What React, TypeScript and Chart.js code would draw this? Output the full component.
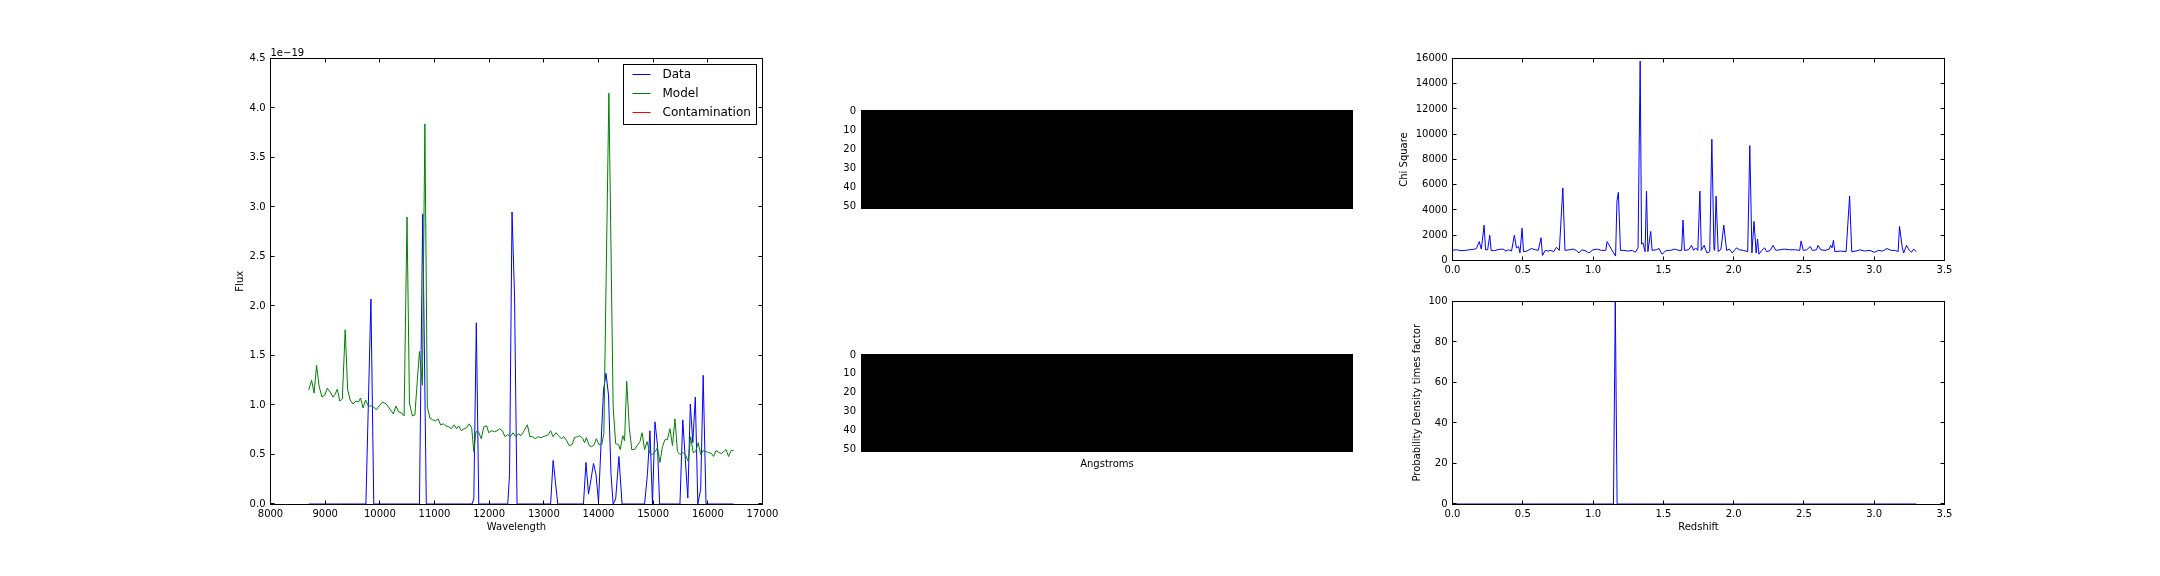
import React, { useEffect, useRef } from "react";
import { Chart, registerables } from "chart.js";

Chart.register(...registerables);

const FONT_FAMILY = '"DejaVu Sans", "Liberation Sans", sans-serif';

// ---------------- Spectrum panel (flux in units of 1e-19) ----------------
const modelWavelength = [
  8699, 8752, 8797, 8843, 8889, 8941, 8993, 9039, 9092, 9144, 9183, 9222, 9268, 9314, 9366, 9412,
  9458, 9510, 9562, 9608, 9647, 9693, 9739, 9791, 9856, 9889, 9935, 9987, 10052, 10118, 10183,
  10248, 10294, 10346, 10399, 10444, 10497, 10542, 10595, 10641, 10686, 10725, 10778, 10824, 10869,
  10915, 10967, 11020, 11065, 11111, 11163, 11209, 11261, 11307, 11359, 11405, 11444, 11490, 11542,
  11588, 11634, 11680, 11719, 11758, 11804, 11856, 11902, 11954, 11993, 12046, 12098, 12144, 12190,
  12242, 12288, 12340, 12386, 12438, 12484, 12536, 12582, 12627, 12699, 12745, 12797, 12843, 12895,
  12941, 12987, 13039, 13078, 13124, 13170, 13222, 13268, 13320, 13366, 13418, 13464, 13516, 13562,
  13614, 13660, 13712, 13745, 13778, 13830, 13876, 13922, 13961, 14007, 14059, 14098, 14190, 14268,
  14314, 14366, 14399, 14444, 14477, 14516, 14562, 14608, 14660, 14706, 14758, 14797, 14843, 14889,
  14941, 14987, 15039, 15078, 15124, 15170, 15216, 15261, 15307, 15353, 15399, 15444, 15490, 15542,
  15588, 15641, 15686, 15732, 15778, 15824, 15869, 15915, 15967, 16013, 16065, 16105, 16150, 16203,
  16248, 16294, 16333, 16379, 16425, 16471,
];
const modelFlux = [
  1.15, 1.25, 1.12, 1.4, 1.19, 1.08, 1.1, 1.17, 1.13, 1.08, 1.11, 1.16, 1.04, 1.06, 1.76, 1.15,
  1.05, 1.01, 1.04, 1.03, 1.07, 0.97, 1.05, 0.99, 0.99, 0.98, 0.95, 0.99, 1.03, 1.01, 0.96,
  0.91, 0.99, 0.93, 0.92, 0.89, 2.9, 1.02, 0.89, 0.9, 1.25, 1.54, 1.2, 3.84, 0.98,
  0.87, 0.85, 0.84, 0.86, 0.8, 0.81, 0.79, 0.78, 0.76, 0.8, 0.76, 0.79, 0.74, 0.76,
  0.77, 0.81, 0.77, 0.53, 0.73, 0.73, 0.66, 0.78, 0.79, 0.72, 0.74, 0.73, 0.74, 0.76,
  0.74, 0.68, 0.7, 0.68, 0.72, 0.68, 0.71, 0.69, 0.73, 0.8, 0.68, 0.68, 0.66, 0.68,
  0.67, 0.68, 0.69, 0.7, 0.74, 0.68, 0.72, 0.69, 0.66, 0.68, 0.64, 0.59, 0.6, 0.67,
  0.68, 0.69, 0.66, 0.62, 0.67, 0.59, 0.58, 0.6, 0.66, 0.6, 0.6, 0.71, 4.15, 0.98,
  0.61, 0.6, 0.55, 0.69, 0.64, 1.24, 0.78, 0.55, 0.55, 0.59, 0.63, 0.72, 0.55, 0.63,
  0.51, 0.5, 0.53, 0.57, 0.42, 0.58, 0.65, 0.65, 0.76, 0.59, 0.86, 0.53, 0.5, 0.52,
  0.5, 0.43, 0.68, 0.52, 0.53, 0.62, 0.5, 0.54, 0.53, 0.52, 0.51, 0.48, 0.54, 0.52,
  0.51, 0.53, 0.55, 0.48, 0.54, 0.54,
];
const dataWavelength = [
  8700, 9745, 9837, 9889, 10725, 10784, 10850, 11686, 11719, 11765, 11810, 12340, 12373, 12418,
  12464, 12510, 13124, 13170, 13255, 13725, 13771, 13817, 13863, 13909, 13954, 14000, 14046, 14092,
  14137, 14183, 14229, 14268, 14314, 14373, 14431, 14843, 14895, 14941, 14987, 15033, 15078, 15118,
  15490, 15542, 15588, 15634, 15680, 15725, 15771, 15817, 15869, 15915, 15967, 16471,
];
const dataFlux = [
  0, 0, 2.07, 0, 0, 2.93, 0, 0, 0.05, 1.83, 0, 0, 0.3, 2.95,
  2.1, 0, 0, 0.44, 0, 0, 0.42, 0.1, 0.25, 0.41, 0.3, 0.02, 0.6, 1.15,
  1.32, 1.1, 0.3, 0, 0.05, 0.48, 0, 0, 0.3, 0.74, 0, 0.83, 0.6, 0,
  0, 0.85, 0.45, 0.06, 1.01, 0.62, 1.08, 0, 0.15, 1.3, 0, 0,
];
const contaminationWavelength: number[] = [];
const contaminationFlux: number[] = [];
const wavelengthTicks = [8000, 9000, 10000, 11000, 12000, 13000, 14000, 15000, 16000, 17000];
const fluxTicks = [0, 0.5, 1, 1.5, 2, 2.5, 3, 3.5, 4, 4.5];
const fluxOffsetLabel = "1e\u221219";

// ---------------- Chi square vs redshift ----------------
const chiRedshift = [
  0, 0.03, 0.06, 0.09, 0.12, 0.15, 0.17, 0.19, 0.205, 0.225, 0.235, 0.25, 0.265, 0.275, 0.3, 0.33,
  0.36, 0.38, 0.4, 0.42, 0.44, 0.455, 0.47, 0.48, 0.495, 0.505, 0.53, 0.56, 0.59, 0.61, 0.63, 0.64,
  0.66, 0.68, 0.7, 0.72, 0.74, 0.76, 0.785, 0.8, 0.83, 0.86, 0.88, 0.9, 0.92, 0.95, 0.97, 1.0,
  1.03, 1.06, 1.09, 1.1, 1.13, 1.16, 1.17, 1.18, 1.195, 1.22, 1.25, 1.28, 1.3, 1.32, 1.335, 1.345,
  1.355, 1.37, 1.38, 1.39, 1.41, 1.42, 1.45, 1.47, 1.49, 1.52, 1.55, 1.58, 1.61, 1.63, 1.64, 1.65,
  1.68, 1.7, 1.715, 1.73, 1.745, 1.76, 1.77, 1.79, 1.81, 1.83, 1.845, 1.86, 1.865, 1.875, 1.89, 1.91,
  1.93, 1.95, 1.97, 1.99, 2.02, 2.04, 2.07, 2.1, 2.115, 2.13, 2.145, 2.16, 2.17, 2.18, 2.2, 2.22,
  2.235, 2.26, 2.28, 2.3, 2.33, 2.36, 2.4, 2.44, 2.47, 2.48, 2.495, 2.52, 2.545, 2.56, 2.59, 2.6,
  2.62, 2.65, 2.68, 2.69, 2.7, 2.71, 2.72, 2.76, 2.8, 2.825, 2.84, 2.87, 2.9, 2.93, 2.97, 3.0,
  3.03, 3.06, 3.09, 3.12, 3.15, 3.17, 3.18, 3.2, 3.21, 3.23, 3.25, 3.265, 3.28, 3.3,
];
const chiSquare = [
  820, 850, 780, 800, 850, 880, 950, 1500, 900, 2800, 850, 850, 2000, 800, 780, 880,
  900, 750, 850, 750, 2000, 1000, 1100, 600, 2550, 700, 750, 950, 850, 800, 1800, 400,
  800, 750, 800, 700, 1050, 800, 5750, 800, 850, 900, 800, 600, 850, 750, 600, 850,
  900, 800, 800, 1500, 900, 350, 4700, 5400, 800, 800, 750, 800, 650, 1000, 15800, 1300,
  1400, 700, 5500, 700, 2300, 800, 850, 950, 500, 800, 800, 900, 800, 800, 3200, 800,
  850, 1200, 800, 1000, 800, 5500, 800, 1200, 600, 700, 9600, 900, 800, 5100, 700, 900,
  2800, 800, 900, 600, 1000, 850, 800, 700, 9100, 600, 3100, 600, 1700, 500, 800, 1000,
  700, 800, 1200, 800, 850, 900, 850, 850, 800, 1550, 800, 850, 1100, 800, 850, 1200,
  850, 800, 900, 1200, 1000, 1600, 700, 750, 700, 5100, 700, 750, 850, 750, 800, 650,
  800, 750, 950, 800, 800, 700, 2700, 1000, 600, 1200, 800, 650, 900, 700,
];
const redshiftTicks = [0, 0.5, 1, 1.5, 2, 2.5, 3, 3.5];
const chiTicks = [0, 2000, 4000, 6000, 8000, 10000, 12000, 14000, 16000];

// ---------------- Probability density vs redshift ----------------
const pdfRedshift = [0, 1.145, 1.158, 1.171, 3.3];
const pdfValue = [0, 0, 100, 0, 0];
const pdfTicks = [0, 20, 40, 60, 80, 100];

// ---------------- 2D spectrum images ----------------
const imageRows = 52;
const imageCols = 262;
const imagePixelValue = 0;
const imageRowTicks = [0, 10, 20, 30, 40, 50];

// ---------------- helpers ----------------
type Box = { l: number; t: number; r: number; b: number };
const MARGIN = { left: 110, right: 40, top: 30, bottom: 50 };
const tickFont = { family: FONT_FAMILY, size: 10 };

const pairs = (xs: number[], ys: number[]) => xs.map((x, i) => ({ x, y: ys[i] }));
const fixedTicks = (values: number[]) => (scale: any) => {
  scale.ticks = values.map((v) => ({ value: v }));
};
const snap = (v: number) => Math.floor(v) + 0.5;

const framePlugin = {
  id: "frame",
  afterDatasetsDraw(chart: any) {
    const { ctx, chartArea: a } = chart;
    const L = 4;
    const left = snap(a.left);
    const right = snap(a.right);
    const top = snap(a.top);
    const bottom = snap(a.bottom);
    ctx.save();
    ctx.strokeStyle = "#000";
    ctx.lineWidth = 1;
    ctx.strokeRect(left, top, right - left, bottom - top);
    ctx.beginPath();
    const xs = chart.scales.x;
    for (const t of xs.ticks) {
      const px = snap(xs.getPixelForValue(t.value) - 0.01);
      ctx.moveTo(px, bottom);
      ctx.lineTo(px, bottom - L);
      ctx.moveTo(px, top);
      ctx.lineTo(px, top + L);
    }
    const ys = chart.scales.y;
    for (const t of ys.ticks) {
      const py = snap(ys.getPixelForValue(t.value) - 0.01);
      ctx.moveTo(left, py);
      ctx.lineTo(left + L, py);
      ctx.moveTo(right, py);
      ctx.lineTo(right - L, py);
    }
    ctx.stroke();
    ctx.restore();
  },
};

const boxLegendPlugin = {
  id: "boxLegend",
  afterDraw(chart: any) {
    const { ctx, chartArea: a } = chart;
    const items = chart.data.datasets;
    ctx.save();
    ctx.font = `12px ${FONT_FAMILY}`;
    const textW = Math.max(...items.map((d: any) => ctx.measureText(d.label).width));
    const w = Math.round(39 + textW + 6);
    const h = 60;
    const right = a.right - 6;
    const left = right - w;
    const top = a.top + 6;
    ctx.fillStyle = "#fff";
    ctx.fillRect(left, top, w, h);
    ctx.strokeStyle = "#000";
    ctx.lineWidth = 1;
    ctx.strokeRect(left, top, w, h);
    items.forEach((d: any, i: number) => {
      const cy = top + 10 + i * 19;
      ctx.strokeStyle = d.borderColor;
      ctx.beginPath();
      ctx.moveTo(left + 9, cy);
      ctx.lineTo(left + 27, cy);
      ctx.stroke();
      ctx.fillStyle = "#000";
      ctx.textBaseline = "middle";
      ctx.textAlign = "left";
      ctx.fillText(d.label, left + 39, cy);
    });
    ctx.restore();
  },
};

const offsetTextPlugin = {
  id: "offsetText",
  afterDraw(chart: any, _args: any, opts: any) {
    if (!opts || !opts.text) return;
    const { ctx, chartArea: a } = chart;
    ctx.save();
    ctx.font = `10px ${FONT_FAMILY}`;
    ctx.fillStyle = "#000";
    ctx.textAlign = "left";
    ctx.textBaseline = "alphabetic";
    ctx.fillText(opts.text, a.left, a.top - 3);
    ctx.restore();
  },
};

const grayLevel = (v: number) => {
  const g = Math.round(Math.max(0, Math.min(1, v)) * 255);
  return `rgb(${g},${g},${g})`;
};

const imagePlugin = {
  id: "image2d",
  beforeDatasetsDraw(chart: any) {
    const { ctx } = chart;
    const xs = chart.scales.x;
    const ys = chart.scales.y;
    ctx.save();
    ctx.fillStyle = grayLevel(imagePixelValue);
    for (let r = 0; r < imageRows; r++) {
      const y0 = Math.round(ys.getPixelForValue(r - 0.5));
      const y1 = Math.round(ys.getPixelForValue(r + 0.5));
      for (let c = 0; c < imageCols; c++) {
        const x0 = Math.round(xs.getPixelForValue(c - 0.5));
        const x1 = Math.round(xs.getPixelForValue(c + 0.5));
        ctx.fillRect(x0, Math.min(y0, y1), x1 - x0, Math.abs(y1 - y0));
      }
    }
    ctx.restore();
  },
};

function axis(opts: any) {
  const { min, max, ticks, fmt, title, reverse, showTicks = true } = opts;
  return {
    type: "linear",
    min,
    max,
    reverse: !!reverse,
    afterBuildTicks: ticks ? fixedTicks(ticks) : undefined,
    grid: { display: false, drawTicks: false },
    border: { display: false },
    ticks: {
      display: showTicks,
      autoSkip: false,
      maxRotation: 0,
      minRotation: 0,
      padding: opts.padding ?? 4,
      color: "#000",
      font: tickFont,
      callback: (v: number) => (fmt ? fmt(v) : String(v)),
    },
    title: title
      ? { display: true, text: title, color: "#000", font: { family: FONT_FAMILY, size: 10 } }
      : { display: false },
  };
}

const baseOptions = () => ({
  animation: false,
  responsive: false,
  events: [],
  plugins: { legend: { display: false }, tooltip: { enabled: false } },
});

const lineDs = (label: string, xs: number[], ys: number[], color: string, order = 0) => ({
  label,
  data: pairs(xs, ys),
  borderColor: color,
  backgroundColor: color,
  borderWidth: 1,
  pointRadius: 0,
  tension: 0,
  fill: false,
  order,
});

interface PanelSpec {
  box: Box;
  yTitleX?: number;
  xTitleY?: number;
  make: () => any;
}

function Panel({ spec }: { spec: PanelSpec }) {
  const ref = useRef<HTMLCanvasElement | null>(null);
  const { box } = spec;
  const cl = Math.floor(box.l) - MARGIN.left;
  const ct = Math.floor(box.t) - MARGIN.top;
  const w = Math.ceil(box.r) + MARGIN.right - cl;
  const h = Math.ceil(box.b) + MARGIN.bottom - ct;
  useEffect(() => {
    const cfg = spec.make();
    const o = cfg.options;
    const yW = box.l - cl;
    const xH = ct + h - box.b;
    o.layout = { padding: { left: 0, top: box.t - ct, right: cl + w - box.r, bottom: 0 } };
    o.scales.x.afterFit = (s: any) => {
      s.height = xH;
      s.paddingLeft = 0;
      s.paddingRight = 0;
      s.paddingTop = 0;
      s.paddingBottom = 0;
    };
    o.scales.y.afterFit = (s: any) => {
      s.width = yW;
      s.paddingLeft = 0;
      s.paddingRight = 0;
      s.paddingTop = 0;
      s.paddingBottom = 0;
    };
    if (spec.yTitleX != null && o.scales.y.title.display)
      o.scales.y.title.padding = { top: spec.yTitleX - cl - 6, bottom: 0 };
    if (spec.xTitleY != null && o.scales.x.title.display)
      o.scales.x.title.padding = { top: 0, bottom: ct + h - spec.xTitleY - 6 };
    const chart = new Chart(ref.current as HTMLCanvasElement, cfg);
    return () => chart.destroy();
  }, []);
  return (
    <canvas
      ref={ref}
      width={w}
      height={h}
      style={{ position: "absolute", left: cl, top: ct, width: w, height: h }}
    />
  );
}

const oneDecimal = (v: number) => v.toFixed(1);

const panels: PanelSpec[] = [
  {
    box: { l: 270.5, t: 58.5, r: 762.5, b: 504 },
    yTitleX: 240,
    xTitleY: 527,
    make: () => ({
      type: "line",
      data: {
        datasets: [
          lineDs("Data", dataWavelength, dataFlux, "#0000ff", 2),
          lineDs("Model", modelWavelength, modelFlux, "#008000", 1),
          lineDs("Contamination", contaminationWavelength, contaminationFlux, "#ff0000", 0),
        ],
      },
      options: {
        ...baseOptions(),
        plugins: {
          legend: { display: false },
          tooltip: { enabled: false },
          offsetText: { text: fluxOffsetLabel },
        },
        scales: {
          x: axis({ min: 8000, max: 17000, ticks: wavelengthTicks, title: "Wavelength", padding: 4 }),
          y: axis({ min: 0, max: 4.5, ticks: fluxTicks, fmt: oneDecimal, title: "Flux", padding: 5 }),
        },
      },
      plugins: [framePlugin, boxLegendPlugin, offsetTextPlugin],
    }),
  },
  {
    box: { l: 861, t: 110, r: 1353, b: 209 },
    make: () => ({
      type: "scatter",
      data: { datasets: [] },
      options: {
        ...baseOptions(),
        scales: {
          x: axis({ min: -0.5, max: imageCols - 0.5, showTicks: false }),
          y: axis({ min: -0.5, max: imageRows - 0.5, ticks: imageRowTicks, reverse: true, padding: 5 }),
        },
      },
      plugins: [imagePlugin],
    }),
  },
  {
    box: { l: 861, t: 354, r: 1353, b: 452 },
    xTitleY: 464,
    make: () => ({
      type: "scatter",
      data: { datasets: [] },
      options: {
        ...baseOptions(),
        scales: {
          x: axis({ min: -0.5, max: imageCols - 0.5, showTicks: false, title: "Angstroms" }),
          y: axis({ min: -0.5, max: imageRows - 0.5, ticks: imageRowTicks, reverse: true, padding: 5 }),
        },
      },
      plugins: [imagePlugin],
    }),
  },
  {
    box: { l: 1452.5, t: 58.5, r: 1944.5, b: 260.5 },
    yTitleX: 1404,
    make: () => ({
      type: "line",
      data: { datasets: [lineDs("Chi Square", chiRedshift, chiSquare, "#0000ff")] },
      options: {
        ...baseOptions(),
        scales: {
          x: axis({ min: 0, max: 3.5, ticks: redshiftTicks, fmt: oneDecimal, padding: 4 }),
          y: axis({ min: 0, max: 16000, ticks: chiTicks, title: "Chi Square", padding: 5 }),
        },
      },
      plugins: [framePlugin],
    }),
  },
  {
    box: { l: 1452.5, t: 301.5, r: 1944.5, b: 504 },
    yTitleX: 1417,
    xTitleY: 527,
    make: () => ({
      type: "line",
      data: { datasets: [lineDs("Probability", pdfRedshift, pdfValue, "#0000ff")] },
      options: {
        ...baseOptions(),
        scales: {
          x: axis({ min: 0, max: 3.5, ticks: redshiftTicks, fmt: oneDecimal, title: "Redshift", padding: 4 }),
          y: axis({ min: 0, max: 100, ticks: pdfTicks, title: "Probability Density times factor", padding: 5 }),
        },
      },
      plugins: [framePlugin],
    }),
  },
];

export default function App() {
  return (
    <div
      style={{
        position: "fixed",
        left: 0,
        top: 0,
        width: 2160,
        height: 576,
        background: "#fff",
        overflow: "hidden",
      }}
    >
      {panels.map((p, i) => (
        <Panel key={i} spec={p} />
      ))}
    </div>
  );
}
